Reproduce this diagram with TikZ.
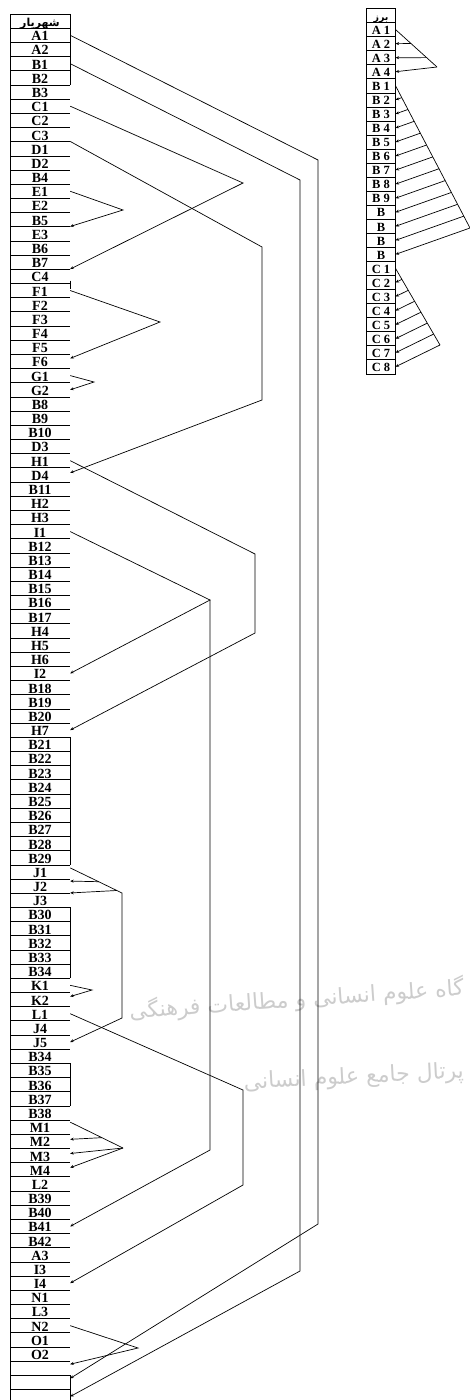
\documentclass[tikz,border=0pt]{standalone}
\usepackage{fontspec}
\setmainfont{Liberation Serif}
\newfontfamily\arabicfont[Script=Arabic]{DejaVu Sans}
\TeXXeTstate=1
\usetikzlibrary{arrows.meta,calc}

\tikzset{
  tline/.style={line width=0.6pt},
  lcell/.style={minimum width=60pt, minimum height=14.18pt, inner sep=0pt,
    text height=12.5pt, text depth=1.5pt, font=\fontsize{14}{14}\selectfont\bfseries},
  rcell/.style={draw, line width=0.6pt, minimum width=28.5pt, minimum height=14.05pt,
    inner sep=0pt, text height=11pt, text depth=1.5pt, font=\fontsize{12.5}{12.5}\selectfont\bfseries},
  link/.style={line width=0.7pt},
  tolink/.style={link, -{Stealth[length=3.5pt,width=3pt]}},
  wmark/.style={text=black!20, anchor=east, inner sep=0pt, font=\arabicfont\fontsize{22}{22}\selectfont},
}

\begin{document}
\begin{tikzpicture}[x=1pt,y=-1pt]
\useasboundingbox (0,0) rectangle (470,1400);

% watermark
\node[wmark, rotate=4] (wm1) at (464,988) {\beginR گاه علوم انسانی و مطالعات فرهنگی\endR};
\node[wmark, rotate=3] (wm2) at (464,1072) {\beginR پرتال جامع علوم انسانی\endR};

% left table
\node[lcell, font=\arabicfont\bfseries\fontsize{11}{11}\selectfont] (L0) at (40,21.09) {\beginR شهریار\endR};
\foreach \lab [count=\i] in {A1,A2,B1,B2,B3,C1,C2,C3,D1,D2,B4,E1,E2,B5,E3,B6,B7,C4,F1,F2,F3,F4,F5,F6,G1,G2,B8,B9,B10,D3,H1,D4,B11,H2,H3,I1,B12,B13,B14,B15,B16,B17,H4,H5,H6,I2,B18,B19,B20,H7,B21,B22,B23,B24,B25,B26,B27,B28,B29,J1,J2,J3,B30,B31,B32,B33,B34,K1,K2,L1,J4,J5,B34,B35,B36,B37,B38,M1,M2,M3,M4,L2,B39,B40,B41,B42,A3,I3,I4,N1,L3,N2,O1,O2}
  \node[lcell] (L\i) at (40,{14+14.18*(\i+0.5)}) {\lab};
\foreach \i in {95,96,97}
  \node[lcell] (L\i) at (40,{14+14.18*(\i+0.5)}) {};
\foreach \i in {0,...,97}
  \draw[tline] (10,{14+14.18*\i}) -- (70,{14+14.18*\i});
\draw[tline] (10,14) -- (10,1400);
\draw[tline] (L0.north east) -- (L4.south east);
\draw[tline] (L51.north east) -- (L59.south east);
\draw[tline] (L63.north east) -- (L67.south east);
\draw[tline] (L74.north east) -- (L76.south east);
\draw[tline] (L96.north east) -- (L97.south east);
\draw[tline] ([yshift=3pt]L18.south east) -- ([yshift=-5pt]L18.south east);

% right table
\node[rcell, font=\arabicfont\bfseries\fontsize{9.5}{9.5}\selectfont] (R0) at (381,15.5) {\beginR برز\endR};
\foreach \lab [count=\i] in {A 1,A 2,A 3,A 4,B 1,B 2,B 3,B 4,B 5,B 6,B 7,B 8,B 9,B,B,B,B,C 1,C 2,C 3,C 4,C 5,C 6,C 7,C 8}
  \node[rcell] (R\i) at (381,{8.5+14.05*(\i+0.5)}) {\lab};

% right fans
\coordinate (ra) at (437,67);
\draw[link] (R1.east) -- (ra);
\draw[tolink] ($(R1.east)!0.374!(ra)$) -- (R2.east);
\draw[tolink] ($(R1.east)!0.75!(ra)$) -- (R3.east);
\draw[tolink] (ra) -- (R4.east);
\coordinate (rb) at (470,228);
\draw[link] (R5.east) -- (rb);
\foreach \k in {1,...,12}
  \draw[tolink] ($(R5.east)!{\k/12}!(rb)$) -- (R\the\numexpr5+\k\relax.east);
\coordinate (rc) at (440,345);
\draw[link] (R18.east) -- (rc);
\foreach \k in {1,...,7}
  \draw[tolink] ($(R18.east)!{\k/7}!(rc)$) -- (R\the\numexpr18+\k\relax.east);

% left connectors
\coordinate (pA) at (318,160); \coordinate (qA) at (318,1224);
\draw[tolink] (L1.east) -- (pA) -- (qA) -- ([yshift=4pt]L96.east);
\coordinate (pB) at (300,180); \coordinate (qB) at (300,1271);
\draw[tolink] (L3.east) -- (pB) -- (qB) -- (L97.east);
\coordinate (vC) at (243,183);
\draw[tolink] (L6.east) -- (vC) -- (L18.north east);
\coordinate (pD) at (262,247); \coordinate (qD) at (262,400);
\draw[tolink] (L9.north east) -- (pD) -- (qD) -- ([yshift=2pt]L32.east);
\coordinate (vE) at (123,210);
\draw[tolink] (L12.east) -- (vE) -- (L15.north east);
\coordinate (vF) at (160,322);
\draw[tolink] (L19.east) -- (vF) -- ([yshift=3pt]L24.east);
\coordinate (vG) at (94,382);
\draw[tolink] (L25.east) -- (vG) -- (L26.east);
\coordinate (pH) at (255,554); \coordinate (qH) at (255,633);
\draw[tolink] (L31.east) -- (pH) -- (qH) -- (L50.east);
\coordinate (vI) at (210,600); \coordinate (qI) at (210,1150);
\draw[tolink] (L36.east) -- (vI) -- (L46.east);
\draw[tolink] (vI) -- (qI) -- (L85.east);
\coordinate (sJ) at ([yshift=4pt]L60.east);
\coordinate (pJ) at (122,893); \coordinate (qJ) at (122,1018);
\draw[tolink] (sJ) -- (pJ) -- (qJ) -- (L72.east);
\draw[tolink] ($(sJ)!0.55!(pJ)$) -- ([yshift=5pt]L61.east);
\draw[tolink] ($(sJ)!0.9!(pJ)$) -- (L62.north east);
\coordinate (vK) at (92,990);
\draw[tolink] (L68.east) -- (vK) -- ([yshift=3pt]L69.east);
\coordinate (pL) at (243,1090); \coordinate (qL) at (243,1185);
\draw[tolink] (L70.east) -- (pL) -- (qL) -- (L89.east);
\coordinate (vM) at (123,1148);
\draw[link] ([yshift=5pt]L78.east) -- (vM);
\draw[tolink] ($([yshift=5pt]L78.east)!0.6!(vM)$) -- ([yshift=2pt]L79.east);
\draw[tolink] (vM) -- ([yshift=2pt]L80.east);
\draw[tolink] (vM) -- ([yshift=2pt]L81.east);
\coordinate (vN) at (138,1348);
\draw[tolink] (L92.east) -- (vN) -- ([yshift=4pt]L95.east);
\end{tikzpicture}
\end{document}
